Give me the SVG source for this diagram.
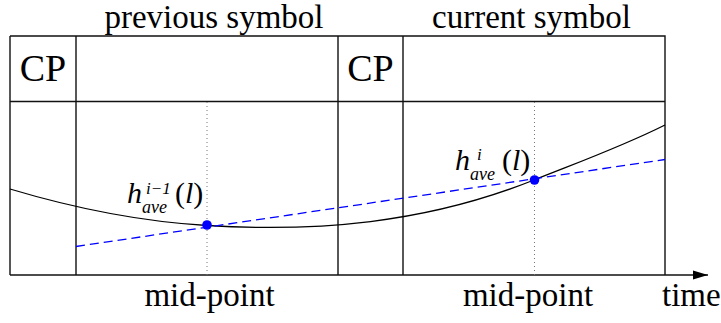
<svg xmlns="http://www.w3.org/2000/svg" width="721" height="323" viewBox="0 0 721 323">
<defs>
<style>
.t{font-family:"Liberation Serif","Times New Roman",serif;fill:#000}
.frame{fill:none;stroke:#111;stroke-width:1.4}
.dot{stroke:#777;stroke-width:1;stroke-dasharray:1 3;fill:none}
.curve{fill:none;stroke:#000;stroke-width:1.3}
.lin{fill:none;stroke:#0000ff;stroke-width:1.3;stroke-dasharray:9 5}
.pt{fill:#0000ff}
.it{font-style:italic}
</style>
<marker id="arr" markerWidth="16" markerHeight="10" refX="15" refY="5" orient="auto" markerUnits="userSpaceOnUse">
<path d="M0,0.5 L15,5 L0,9.5 Z" fill="#000"/>
</marker>
</defs>
<rect width="721" height="323" fill="#fff"/>
<g id="frame">
<path class="frame" d="M10,36 H665 V275 M10,275 V36 M10,101.5 H665 M76,36 V275 M338,36 V275 M403,36 V275"/>
</g>
<g id="labels">
<text class="t" x="214" y="28" font-size="33" text-anchor="middle">previous symbol</text>
<text class="t" x="531.5" y="28" font-size="33" text-anchor="middle">current symbol</text>
<text class="t" x="43" y="81" font-size="38" text-anchor="middle">CP</text>
<text class="t" x="370.5" y="81" font-size="38" text-anchor="middle">CP</text>
<text class="t" x="209.5" y="306" font-size="33" text-anchor="middle">mid-point</text>
<text class="t" x="528" y="306" font-size="33" text-anchor="middle">mid-point</text>
<text class="t" x="662" y="306" font-size="33">time</text>
</g>
<g id="connectors">
<path class="frame" d="M10,275 H708" marker-end="url(#arr)"/>
<path class="dot" d="M207,102 V275"/>
<path class="dot" d="M534.5,102 V275"/>
<path class="curve" d="M10,189 C75.7,208.7 141.3,221.6 207,225.5 C316,232 425,223.6 534,180 C577.7,162.5 621.3,146.9 665,125"/>
<path class="lin" d="M76,246.5 L665,159.5"/>
</g>
<g id="point-prev">
<circle class="pt" cx="207" cy="225" r="4.8"/>
<text class="t it" x="127" y="203" font-size="30">h</text>
<text class="t it" x="142" y="213" font-size="18">ave</text>
<text class="t it" x="146" y="194" font-size="17">i−1</text>
<text class="t" x="175" y="203" font-size="30">(<tspan class="it">l</tspan>)</text>
</g>
<g id="point-cur">
<circle class="pt" cx="534.5" cy="180" r="4.8"/>
<text class="t it" x="455" y="170" font-size="30">h</text>
<text class="t it" x="470" y="180" font-size="18">ave</text>
<text class="t it" x="477" y="160" font-size="17">i</text>
<text class="t" x="502" y="170" font-size="30">(<tspan class="it">l</tspan>)</text>
</g>
</svg>
